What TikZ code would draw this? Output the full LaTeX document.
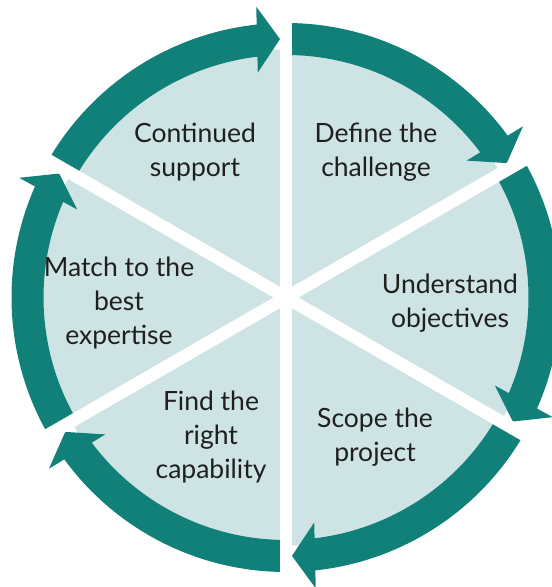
\documentclass[tikz,border=0pt]{standalone}
\usepackage{fontspec}
\setmainfont{Lato}
\definecolor{ringteal}{RGB}{17,128,121}
\definecolor{pielight}{RGB}{206,228,228}
\begin{document}
\begin{tikzpicture}[x=1pt,y=1pt,
  ringarc/.style={draw=ringteal,line width=32pt},
  gapline/.style={draw=white,line width=12.5pt},
  headfill/.style={fill=ringteal},
  lbl/.style={align=center,text=black!88,font=\fontsize{26.5}{34}\selectfont,inner sep=0pt}]
\useasboundingbox (0,0) rectangle (552,587);
\clip (0,0) rectangle (552,587);
\coordinate (C) at (286,289.5);
% light disc
\fill[pielight] (C) circle (248);
% ring arcs (clockwise)
\foreach \g/\s in {150/210, 90/150, 30/90, -30/30, -90/-30, -150/-90}{
  \draw[ringarc] (C) ++(\s:258.5) arc[start angle=\s, end angle=\g+1.33+4.6, radius=258.5];
  \begin{scope}[shift={(C)},rotate=\g+1.33]
    \fill[headfill] (258.5,0) -- (291.5,23) -- (225.5,23) -- cycle;
  \end{scope}
}
% white gaps
\draw[gapline] (C) ++(90:300) -- ++(270:600);
\draw[gapline] (C) ++(30:300) -- ++(210:600);
\draw[gapline] (C) ++(150:300) -- ++(330:600);
% labels
\node[lbl] (l1) at (195,435) {Continued\\support};
\node[lbl] (l2) at (376,435) {Define the\\challenge};
\node[lbl] (l3) at (450,284) {Understand\\objectives};
\node[lbl] (l4) at (375,150) {Scope the\\project};
\node[lbl] (l5) at (211,150) {Find the\\right\\capability};
\node[lbl] (l6) at (119,284) {Match to the\\best\\expertise};
\end{tikzpicture}
\end{document}
